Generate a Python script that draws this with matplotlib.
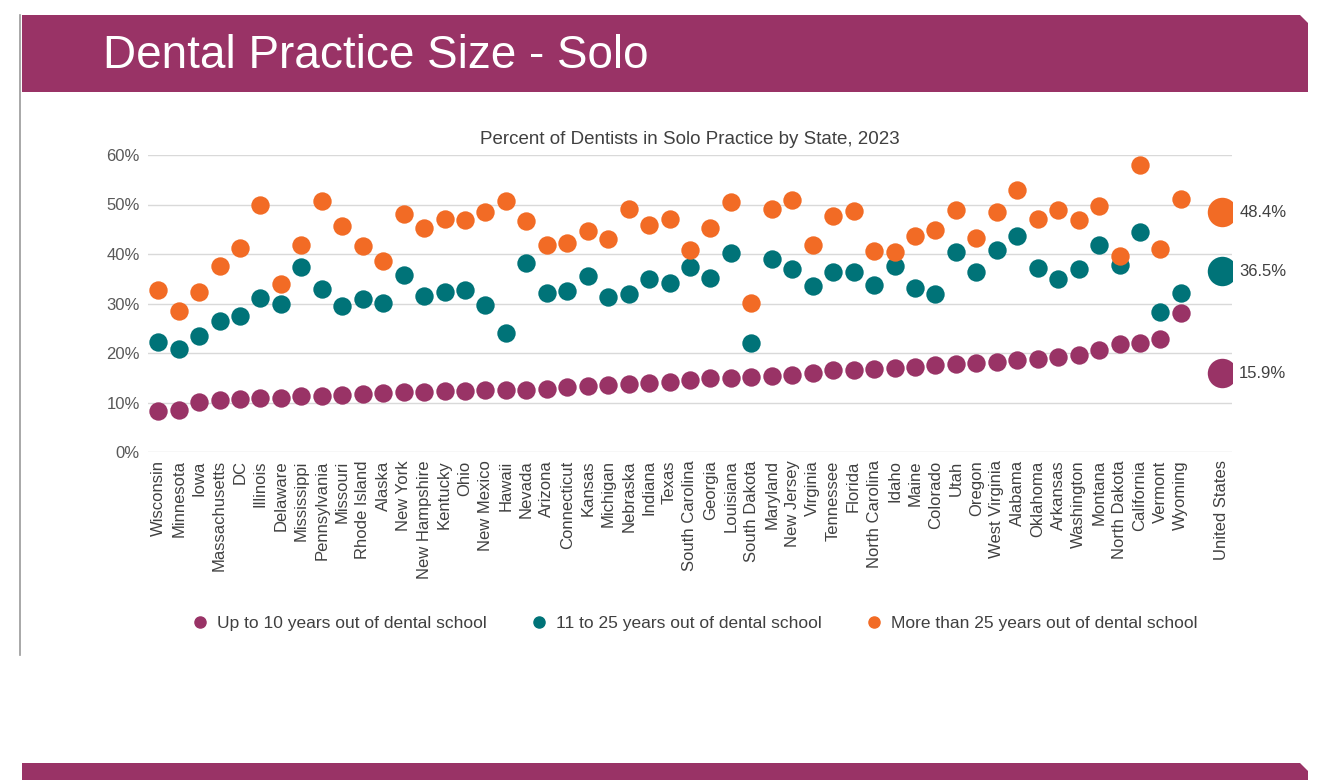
import matplotlib
matplotlib.use("Agg")
import matplotlib.pyplot as plt
from matplotlib.patches import Rectangle, Polygon
from matplotlib.lines import Line2D

plt.rcParams['font.family'] = ['Liberation Sans', 'DejaVu Sans']

states = ["Wisconsin","Minnesota","Iowa","Massachusetts","DC","Illinois","Delaware","Mississippi","Pennsylvania","Missouri","Rhode Island","Alaska","New York","New Hampshire","Kentucky","Ohio","New Mexico","Hawaii","Nevada","Arizona","Connecticut","Kansas","Michigan","Nebraska","Indiana","Texas","South Carolina","Georgia","Louisiana","South Dakota","Maryland","New Jersey","Virginia","Tennessee","Florida","North Carolina","Idaho","Maine","Colorado","Utah","Oregon","West Virginia","Alabama","Oklahoma","Arkansas","Washington","Montana","North Dakota","California","Vermont","Wyoming"]
up10 = [8.3,8.5,10.1,10.5,10.7,10.9,11.0,11.3,11.4,11.5,11.8,12.0,12.1,12.2,12.4,12.4,12.5,12.5,12.6,12.8,13.2,13.4,13.5,13.8,13.9,14.2,14.5,14.9,15.0,15.1,15.4,15.6,15.9,16.5,16.6,16.8,16.9,17.2,17.5,17.7,17.9,18.2,18.5,18.8,19.2,19.6,20.7,21.8,22.1,22.8,28.0]
mid = [22.2,20.8,23.4,26.5,27.5,31.1,29.9,37.4,32.9,29.5,30.9,30.1,35.8,31.5,32.3,32.7,29.7,24.0,38.2,32.1,32.5,35.6,31.3,31.9,35.0,34.1,37.4,35.2,40.2,22.0,39.0,37.0,33.5,36.4,36.4,33.7,37.6,33.1,31.9,40.4,36.4,40.8,43.6,37.2,35.0,37.0,41.8,37.8,44.4,28.3,32.1]
over25 = [32.7,28.5,32.3,37.6,41.2,49.9,34.0,41.8,50.7,45.7,41.6,38.6,48.1,45.3,47.1,46.9,48.5,50.7,46.7,41.8,42.2,44.6,43.0,49.1,45.9,47.1,40.8,45.3,50.5,30.1,49.1,50.9,41.8,47.7,48.7,40.6,40.4,43.6,44.8,48.9,43.2,48.5,52.9,47.1,48.9,46.9,49.7,39.6,58.0,41.0,51.1]
us_label = "United States"
us_vals = [15.9, 36.5, 48.4]
series_names = ["Up to 10 years out of dental school","11 to 25 years out of dental school","More than 25 years out of dental school"]
colors = ["#993366", "#007378", "#F26B25"]

W, H = 1332, 780
fig = plt.figure(figsize=(W/100, H/100), dpi=100)
fig.patch.set_facecolor("white")

def fx(x): return x / W
def fy(y): return 1 - y / H

# header band with clipped top-right corner
fig.patches.append(Polygon([(fx(22), fy(15)), (fx(1300), fy(15)), (fx(1308), fy(23)),
                            (fx(1308), fy(92)), (fx(22), fy(92))], closed=True,
                           transform=fig.transFigure, facecolor="#993366", edgecolor="none"))
fig.patches.append(Polygon([(fx(22), fy(763)), (fx(1300), fy(763)), (fx(1308), fy(771)),
                            (fx(1308), fy(780)), (fx(22), fy(780))], closed=True,
                           transform=fig.transFigure, facecolor="#993366", edgecolor="none"))
fig.lines.append(Line2D([fx(20), fx(20)], [fy(15), fy(655)], transform=fig.transFigure, color="#999999", lw=1.2))
fig.text(fx(103), fy(56), "Dental Practice Size - Solo", color="white", fontsize=33, va="center", ha="left")

ax = fig.add_axes([fx(148), fy(452), fx(1232)-fx(148), fy(155)-fy(452)])
n = len(states)
xs = list(range(n))
for vals, c in zip([up10, mid, over25], colors):
    ax.scatter(xs, vals, s=175, color=c, zorder=3, linewidths=0)
usx = n + 1
for v, c in zip(us_vals, colors):
    ax.scatter([usx], [v], s=450, color=c, zorder=3, linewidths=0)
    ax.text(usx + 0.85, v, f"{v}%", va="center", ha="left", fontsize=12, color="#404040")

ax.set_xlim(-0.5, n + 1.5)
ax.set_ylim(0, 60)
ax.set_yticks(range(0, 61, 10))
ax.set_yticklabels([f"{t}%" for t in range(0, 61, 10)], fontsize=12, color="#595959")
ax.set_xticks(xs + [usx])
ax.set_xticklabels(states + [us_label], rotation=90, fontsize=12, color="#404040")
ax.grid(axis="y", color="#D9D9D9", lw=1)
ax.set_axisbelow(True)
for s in ax.spines.values():
    s.set_visible(False)
ax.tick_params(length=0, pad=6)
ax.set_title("Percent of Dentists in Solo Practice by State, 2023", fontsize=13.5, color="#404040", pad=8)

handles = [Line2D([], [], marker="o", ls="", color=c, markersize=8) for c in colors]
fig.legend(handles, series_names, loc="center", bbox_to_anchor=(fx(690), fy(623)), ncol=3,
           frameon=False, fontsize=12.5, handletextpad=0.0, columnspacing=2.0, labelcolor="#404040")

fig.savefig("out.png", dpi=100)
